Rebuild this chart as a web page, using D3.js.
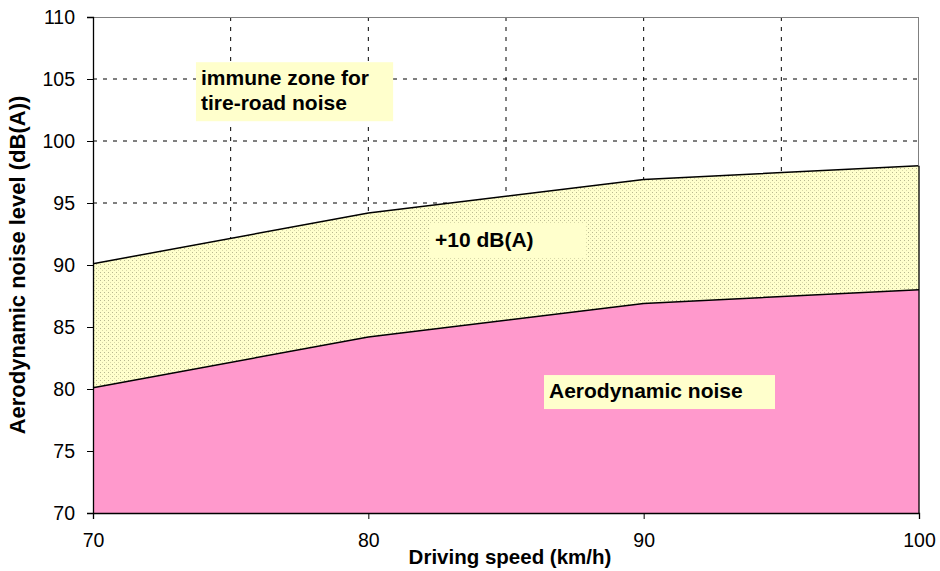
<!DOCTYPE html>
<html>
<head>
<meta charset="utf-8">
<script src="https://cdn.jsdelivr.net/npm/d3@7.9.0/dist/d3.min.js"></script>
<style>
  body { margin: 0; background: #fff; }
  svg text { font-family: "Liberation Sans", Arial, sans-serif; fill: #000; }
</style>
</head>
<body>
<svg id="chart" width="940" height="571"></svg>
<script>
// data
const speeds = [70, 80, 90, 100];
const aeroNoise = [80.1, 84.2, 86.9, 88.0];
const upperNoise = [90.1, 94.2, 96.9, 98.0];
const xTicks = [70, 80, 90, 100];
const xGrid = [75, 80, 85, 90, 95];
const yTicks = [70, 75, 80, 85, 90, 95, 100, 105, 110];
// annotations: x0..x1 = box span (km/h), y = first text baseline (dB)
const labels = [
  { lines: ['immune zone for', 'tire-road noise'], x0: 73.74, x1: 80.9, y: 104.5 },
  { lines: ['+10 dB(A)'], x0: 82.24, x1: 87.9, y: 91.45 },
  { lines: ['Aerodynamic noise'], x0: 86.38, x1: 94.77, y: 79.27 }
];

const svg = d3.select('#chart');
const margin = { left: 93, right: 21, top: 17, bottom: 58 };
const W = 940, H = 571;

let x = d3.scaleLinear().domain([70, 100]).range([margin.left, W - margin.right]);
let y = d3.scaleLinear().domain([70, 110]).range([H - margin.bottom, margin.top]);

// dotted pattern for the +10 dB band
let defs = svg.append('defs');
let pat = defs.append('pattern')
  .attr('id', 'dots')
  .attr('width', 4).attr('height', 4)
  .attr('patternUnits', 'userSpaceOnUse');
pat.append('rect').attr('width', 4).attr('height', 4).attr('fill', '#ffffcc');
pat.append('rect').attr('x', 0).attr('y', 0).attr('width', 1).attr('height', 1).attr('fill', '#b8b890');
pat.append('rect').attr('x', 2).attr('y', 2).attr('width', 1).attr('height', 1).attr('fill', '#d8d8a8');

let rows = speeds.map((s, i) => ({ s, lo: aeroNoise[i], hi: upperNoise[i] }));

// grid
let grid = svg.append('g');
yTicks.filter((t) => t > 70 && t < 110).forEach((t) => {
  grid.append('line')
    .attr('x1', x(70)).attr('x2', x(100))
    .attr('y1', y(t)).attr('y2', y(t))
    .attr('stroke', '#000').attr('stroke-width', 1)
    .attr('stroke-dasharray', '4,6');
});
xGrid.forEach((t) => {
  grid.append('line')
    .attr('x1', x(t)).attr('x2', x(t))
    .attr('y1', y(110)).attr('y2', y(70))
    .attr('stroke', '#000').attr('stroke-width', 1)
    .attr('stroke-dasharray', '4,6');
});

// areas
let band = d3.area().x((d) => x(d.s)).y0((d) => y(d.lo)).y1((d) => y(d.hi));
let aero = d3.area().x((d) => x(d.s)).y0(y(70)).y1((d) => y(d.lo));

svg.append('path').datum(rows).attr('d', band).attr('fill', 'url(#dots)');
svg.append('path').datum(rows).attr('d', aero).attr('fill', '#ff99cc');

svg.append('path').datum(rows).attr('d', d3.line().x((d) => x(d.s)).y((d) => y(d.hi)))
  .attr('fill', 'none').attr('stroke', '#000').attr('stroke-width', 1.5);
svg.append('path').datum(rows).attr('d', d3.line().x((d) => x(d.s)).y((d) => y(d.lo)))
  .attr('fill', 'none').attr('stroke', '#000').attr('stroke-width', 1.5);
// right edge of the filled areas
svg.append('line')
  .attr('x1', x(100)).attr('x2', x(100)).attr('y1', y(upperNoise[3])).attr('y2', y(70))
  .attr('stroke', '#000').attr('stroke-width', 1.3);

// plot frame (top and right in gray)
svg.append('line').attr('x1', x(70)).attr('x2', x(100)).attr('y1', y(110) + 0.5).attr('y2', y(110) + 0.5)
  .attr('stroke', '#808080');
svg.append('line').attr('x1', x(100) - 0.5).attr('x2', x(100) - 0.5).attr('y1', y(110)).attr('y2', y(upperNoise[3]))
  .attr('stroke', '#808080');

// axes
let yAxis = d3.axisLeft(y).tickValues(yTicks).tickSize(6).tickPadding(12).tickFormat(d3.format('d'));
let gy = svg.append('g').attr('transform', `translate(${x(70)},0)`).call(yAxis);
gy.select('.domain').attr('stroke', '#000').attr('stroke-width', 1.3);
gy.selectAll('.tick line').attr('stroke', '#000');
gy.selectAll('.tick text').attr('font-size', 19.5).attr('font-family', '"Liberation Sans", Arial, sans-serif').attr('fill', '#000');

let xAxis = d3.axisBottom(x).tickValues(xTicks).tickSize(6).tickPadding(14).tickFormat(d3.format('d'));
let gx = svg.append('g').attr('transform', `translate(0,${y(70)})`).call(xAxis);
gx.select('.domain').attr('stroke', '#000').attr('stroke-width', 1.3);
gx.selectAll('.tick line').attr('stroke', '#000');
gx.selectAll('.tick text').attr('font-size', 19.5).attr('font-family', '"Liberation Sans", Arial, sans-serif').attr('fill', '#000');

// axis titles
svg.append('text')
  .attr('x', 510).attr('y', 564)
  .attr('text-anchor', 'middle')
  .attr('font-size', 20.5).attr('font-weight', 'bold')
  .text('Driving speed (km/h)');
svg.append('text')
  .attr('transform', `translate(25,${(y(70) + y(110)) / 2}) rotate(-90)`)
  .attr('text-anchor', 'middle')
  .attr('font-size', 22).attr('font-weight', 'bold')
  .text('Aerodynamic noise level (dB(A))');

// annotation boxes
labels.forEach((l) => {
  let g = svg.append('g');
  let lineH = 25;
  let n = l.lines.length;
  g.append('rect')
    .attr('x', x(l.x0))
    .attr('y', y(l.y) - 23)
    .attr('width', x(l.x1) - x(l.x0))
    .attr('height', 34 + (n - 1) * lineH)
    .attr('fill', '#ffffcc');
  l.lines.forEach((t, i) => g.append('text')
    .attr('x', x(l.x0) + 5)
    .attr('y', y(l.y) + i * lineH)
    .attr('font-size', 21).attr('font-weight', 'bold')
    .text(t));
});
</script>
</body>
</html>
